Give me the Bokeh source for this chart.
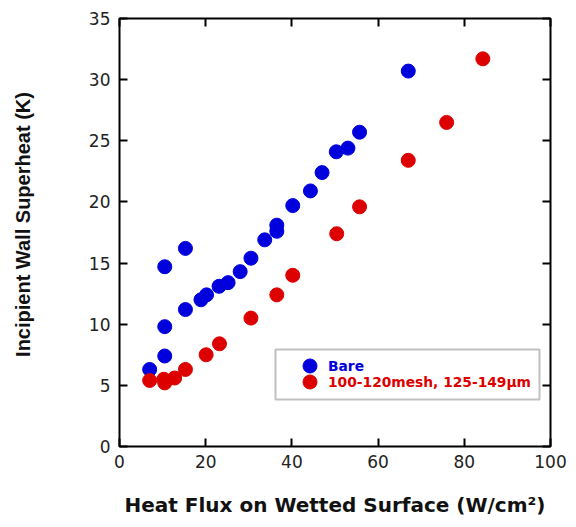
import math
from bokeh.plotting import figure
from bokeh.models import (Range1d, LinearAxis, SingleIntervalTicker, Legend, LegendItem,
                          BoxAnnotation, Label)
from bokeh.embed import file_html
from bokeh.resources import INLINE

# Data
bare_x = [7.0, 10.5, 10.5, 10.5, 15.3, 15.3, 18.9, 20.2, 23.1, 25.2, 28.0, 30.5,
          33.7, 36.5, 36.5, 40.2, 44.3, 47.0, 50.3, 53.0, 55.7, 67.0]
bare_y = [6.3, 7.4, 9.8, 14.7, 16.2, 11.2, 12.0, 12.4, 13.1, 13.4, 14.3, 15.4,
          16.9, 17.6, 18.1, 19.7, 20.9, 22.4, 24.1, 24.4, 25.7, 30.7]
mesh_x = [7.0, 10.3, 10.5, 12.8, 15.3, 20.1, 23.2, 30.5, 36.5, 40.2, 50.4, 55.7,
          67.0, 75.9, 84.3]
mesh_y = [5.4, 5.5, 5.2, 5.6, 6.3, 7.5, 8.4, 10.5, 12.4, 14.0, 17.4, 19.6,
          23.4, 26.5, 31.7]
series_labels = ["Bare", "100-120mesh, 125-149\u00b5m"]
x_title = "Heat Flux on Wetted Surface (W/cm\u00b2)"
y_title = "Incipient Wall Superheat (K)"

BLUE = "#0000dd"
RED = "#dd0000"
FONT = "Liberation Sans"
WIDE = "DejaVu Sans"

p = figure(width=568, height=519, output_backend="svg", toolbar_location=None,
           x_range=Range1d(0, 100), y_range=Range1d(0, 35),
           min_border_left=119, min_border_right=18, min_border_top=18,
           min_border_bottom=71)
p.xgrid.visible = False
p.ygrid.visible = False
p.outline_line_color = "black"
p.outline_line_width = 2
p.background_fill_color = "white"
p.border_fill_color = "white"

xt = SingleIntervalTicker(interval=20, num_minor_ticks=0)
yt = SingleIntervalTicker(interval=5, num_minor_ticks=0)

def style(ax, labels=True):
    ax.axis_line_color = None
    ax.major_tick_in = 8
    ax.major_tick_out = 0
    ax.major_tick_line_width = 2
    ax.major_tick_line_color = "black"
    ax.minor_tick_line_color = None
    if labels:
        ax.major_label_text_font = WIDE
        ax.major_label_text_font_size = "17px"
        ax.major_label_text_color = "#222222"
        ax.axis_label_text_font_style = "bold"
        ax.axis_label_text_color = "#111111"
    else:
        ax.major_label_text_font_size = "0px"
        ax.major_label_text_color = None
        ax.major_label_standoff = 0

p.xaxis.ticker = xt
p.yaxis.ticker = yt
style(p.xaxis[0])
style(p.yaxis[0])
p.xaxis.axis_label = x_title
p.xaxis.axis_label_text_font = WIDE
p.xaxis.axis_label_text_font_size = "20px"
p.xaxis.major_label_standoff = 8
p.yaxis.major_label_standoff = 9
p.xaxis.axis_label_standoff = 22

# y title as a rotated label in the left side panel
ylab = Label(text=y_title, x=-41, y=222, x_units="screen", y_units="screen",
             angle=math.pi / 2, text_align="center", text_baseline="middle",
             text_font=FONT, text_font_size="20px", text_font_style="bold",
             text_color="#111111")
p.add_layout(ylab, "left")

top = LinearAxis(ticker=xt)
right = LinearAxis(ticker=yt)
style(top, labels=False)
style(right, labels=False)
p.add_layout(top, "above")
p.add_layout(right, "right")

r_bare = p.scatter(bare_x, bare_y, size=14, color=BLUE, line_color=BLUE)
r_mesh = p.scatter(mesh_x, mesh_y, size=14, color=RED, line_color=RED)

# legend frame (screen units relative to plot frame)
box = BoxAnnotation(left=156, right=420, bottom=47, top=97,
                    left_units="screen", right_units="screen",
                    bottom_units="screen", top_units="screen",
                    fill_color="white", fill_alpha=1.0,
                    line_color="#333333", line_width=2)
p.add_layout(box)

def mk_legend(renderer, label, color, loc):
    lg = Legend(items=[LegendItem(label=label, renderers=[renderer])],
                location=loc, glyph_width=35, glyph_height=35,
                label_standoff=1, padding=0, margin=0, spacing=0,
                border_line_color=None, background_fill_alpha=0,
                label_text_font=WIDE, label_text_font_style="bold",
                label_text_font_size="13.8px", label_text_color=color)
    return lg

p.add_layout(mk_legend(r_bare, series_labels[0], BLUE, (173, 63)), "center")
p.add_layout(mk_legend(r_mesh, series_labels[1], RED, (173, 47)), "center")

open("out.html", "w").write(file_html(p, INLINE))
